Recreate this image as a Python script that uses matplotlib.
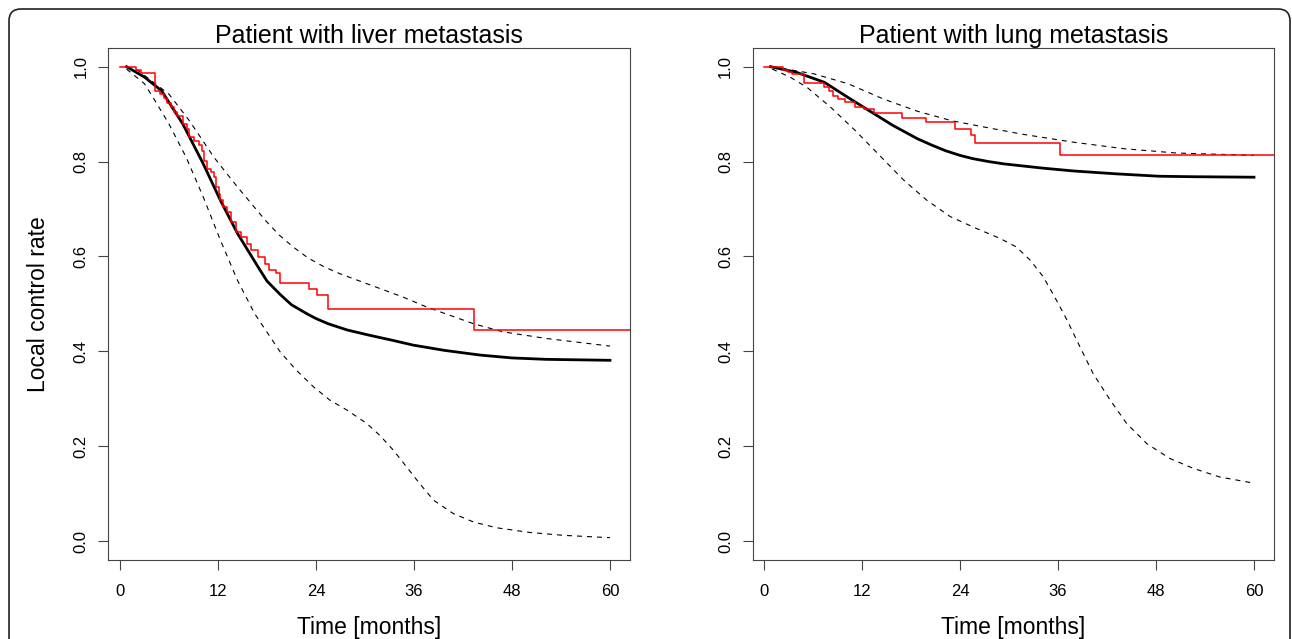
import matplotlib
matplotlib.use('Agg')
import matplotlib.pyplot as plt
from matplotlib.patches import FancyBboxPatch

plt.rcParams['font.family'] = ['Liberation Sans', 'DejaVu Sans']

# liver metastasis: model fit with confidence band (months, rate)
liver_fit_t = [0.8, 3.0, 5.1, 7.7, 10.2, 12.3, 14.4, 16.9, 18.0, 19.6, 21.0, 22.9, 24.0,
               25.5, 27.8, 30.5, 33.4, 35.9, 39.7, 44.1, 48.0, 52.2, 60.0]
liver_fit = [1.0, 0.978, 0.949, 0.879, 0.795, 0.718, 0.648, 0.578, 0.548, 0.520, 0.498,
             0.479, 0.469, 0.458, 0.445, 0.434, 0.423, 0.413, 0.402, 0.392, 0.386,
             0.383, 0.381]
liver_up_t = [0.8, 2.2, 6.0, 8.5, 11.5, 14.4, 17.8, 19.5, 21.2, 23.0, 25.0, 27.0, 29.2,
              34.7, 37.6, 43.3, 46.9, 52.2, 60.0]
liver_up = [1.0, 0.992, 0.942, 0.886, 0.809, 0.746, 0.676, 0.645, 0.620, 0.597, 0.578,
            0.563, 0.549, 0.514, 0.493, 0.458, 0.441, 0.427, 0.411]
liver_lo_t = [0.8, 3.0, 4.3, 6.0, 8.1, 10.2, 12.3, 14.4, 16.5, 19.6, 21.6, 23.7, 25.7,
              27.8, 30.2, 31.8, 33.5, 35.1, 36.7, 38.4, 40.8, 43.3, 46.1, 50.2, 54.3, 60.0]
liver_lo = [0.995, 0.964, 0.928, 0.879, 0.809, 0.725, 0.634, 0.549, 0.479, 0.399, 0.360,
            0.325, 0.297, 0.276, 0.248, 0.223, 0.191, 0.156, 0.121, 0.086, 0.058, 0.040,
            0.028, 0.018, 0.012, 0.007]
# liver: Kaplan-Meier steps
liver_km_t = [0, 2.0, 2.6, 4.3, 4.9, 5.35, 5.8, 6.2, 6.6, 7.0, 7.7, 8.2, 8.5, 9.0, 9.7,
              10.0, 10.3, 10.7, 11.1, 11.5, 11.8, 12.1, 12.3, 12.6, 13.1, 13.6, 14.2,
              14.8, 15.5, 16.1, 16.9, 17.8, 18.2, 19.1, 19.6, 23.1, 24.1, 25.5, 43.3, 63]
liver_km = [1.0, 0.993, 0.986, 0.949, 0.942, 0.934, 0.924, 0.914, 0.904, 0.897, 0.879,
            0.869, 0.851, 0.844, 0.834, 0.822, 0.802, 0.785, 0.778, 0.767, 0.746, 0.732,
            0.718, 0.704, 0.693, 0.672, 0.651, 0.641, 0.627, 0.613, 0.599, 0.585, 0.571,
            0.564, 0.544, 0.532, 0.518, 0.490, 0.444, 0.444]

# lung metastasis
lung_fit_t = [0.8, 4.0, 7.4, 10.3, 12.9, 15.8, 18.8, 20.5, 22.2, 24.0, 25.6, 27.5, 29.4,
              34.2, 38.0, 43.2, 48.4, 52.6, 60.0]
lung_fit = [1.0, 0.988, 0.967, 0.935, 0.907, 0.876, 0.848, 0.835, 0.823, 0.813, 0.806,
            0.800, 0.795, 0.786, 0.780, 0.774, 0.769, 0.768, 0.767]
lung_up_t = [1.0, 6.1, 10.3, 14.6, 18.8, 23.0, 27.2, 31.5, 37.8, 44.1, 50.5, 60.0]
lung_up = [1.0, 0.985, 0.964, 0.932, 0.906, 0.886, 0.872, 0.858, 0.841, 0.827, 0.818, 0.813]
lung_lo_t = [1.0, 3.2, 5.3, 8.2, 11.2, 14.6, 17.1, 19.9, 22.8, 26.0, 28.9, 30.9, 32.6,
             34.2, 35.8, 37.1, 38.7, 40.3, 42.4, 44.4, 46.9, 49.7, 52.6, 55.8, 60.0]
lung_lo = [0.995, 0.978, 0.956, 0.914, 0.865, 0.805, 0.761, 0.719, 0.684, 0.659, 0.638,
           0.620, 0.592, 0.557, 0.508, 0.466, 0.409, 0.353, 0.297, 0.248, 0.205, 0.174,
           0.153, 0.135, 0.122]
lung_km_t = [0, 2.3, 2.96, 3.4, 4.9, 7.4, 8.0, 8.4, 9.1, 9.9, 11.2, 12.2, 13.5, 16.9,
             19.8, 23.4, 25.3, 25.9, 36.3, 63]
lung_km = [1.0, 0.993, 0.988, 0.985, 0.965, 0.958, 0.949, 0.939, 0.932, 0.925, 0.916,
           0.911, 0.902, 0.892, 0.883, 0.869, 0.855, 0.839, 0.813, 0.813]

x_ticks = [0, 12, 24, 36, 48, 60]
y_ticks = [0.0, 0.2, 0.4, 0.6, 0.8, 1.0]
y_labels = ['0.0', '0.2', '0.4', '0.6', '0.8', '1.0']

W, H = 1292, 639
fig = plt.figure(figsize=(W / 100, H / 100), dpi=100)
ax1 = fig.add_axes([108 / W, 79 / H, 522 / W, 512.3 / H])
ax2 = fig.add_axes([752.7 / W, 79 / H, 521.3 / W, 512.3 / H])


def panel(ax, title, fit_t, fit, up_t, up, lo_t, lo, km_t, km, x0):
    ax.plot(fit_t, fit, color='black', lw=2.0)
    ax.plot(up_t, up, color='black', lw=0.8, ls=(0, (4.5, 4.5)))
    ax.plot(lo_t, lo, color='black', lw=0.8, ls=(0, (4.5, 4.5)))
    ax.step(km_t, km, where='post', color='red', lw=1.1)
    ax.set_xlim(x0, 62.45)
    ax.set_ylim(-0.04, 1.04)
    ax.set_xticks(x_ticks)
    ax.set_yticks(y_ticks)
    ax.set_yticklabels(y_labels)
    ax.tick_params(direction='out', length=7.2, width=0.8, color='#444444',
                   labelsize=12)
    ax.tick_params(axis='x', pad=10)
    ax.tick_params(axis='y', pad=7, labelrotation=90)
    plt.setp(ax.get_yticklabels(), va='center')
    for s in ax.spines.values():
        s.set_color('#444444')
        s.set_linewidth(0.8)
    ax.set_title(title, fontsize=18, pad=2.5)
    ax.set_xlabel('Time [months]', fontsize=16.5, va='baseline')
    ax.xaxis.set_label_coords(0.5, -0.1444)


panel(ax1, 'Patient with liver metastasis', liver_fit_t, liver_fit, liver_up_t, liver_up,
      liver_lo_t, liver_lo, liver_km_t, liver_km, -1.47)
panel(ax2, 'Patient with lung metastasis', lung_fit_t, lung_fit, lung_up_t, lung_up,
      lung_lo_t, lung_lo, lung_km_t, lung_km, -1.38)

ax1.set_ylabel('Local control rate', fontsize=16.5, va='center')
ax1.yaxis.set_label_coords(-0.133, 0.5)

# rounded frame around the figure, open at the bottom
frame = FancyBboxPatch((0.09, -0.5), 12.81, 6.80, boxstyle='round,pad=0,rounding_size=0.12',
                       transform=fig.dpi_scale_trans, fill=False, ec='#222222', lw=1.2,
                       clip_on=False)
fig.add_artist(frame)

fig.savefig('out.png', dpi=100)
